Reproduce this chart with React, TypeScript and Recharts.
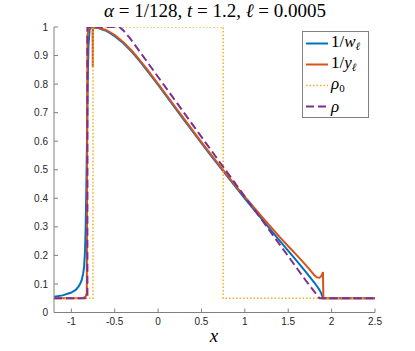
import { LineChart, Line, XAxis, YAxis, Legend } from "recharts";

const xTicks = [-1, -0.5, 0, 0.5, 1, 1.5, 2, 2.5];
const yTicks = [0, 0.1, 0.2, 0.3, 0.4, 0.5, 0.6, 0.7, 0.8, 0.9, 1];

// 1/w_l
const invW: [number, number][] = [
  [-1.2, 0.055], [-1.1, 0.06], [-1.0, 0.07], [-0.95, 0.079], [-0.92, 0.09],
  [-0.9, 0.1], [-0.88, 0.114], [-0.865, 0.135], [-0.853, 0.16], [-0.842, 0.22],
  [-0.835, 0.3], [-0.828, 0.42], [-0.82, 0.6], [-0.812, 0.8], [-0.803, 0.93],
  [-0.79, 0.99], [-0.78, 1.0], [-0.7, 0.997], [-0.6, 0.987], [-0.5, 0.968],
  [-0.4, 0.943], [-0.3, 0.912], [-0.2, 0.876], [-0.1, 0.837], [0, 0.797],
  [0.1, 0.756], [0.2, 0.715], [0.3, 0.674], [0.4, 0.633], [0.5, 0.593],
  [0.6, 0.553], [0.75, 0.495], [0.9, 0.437], [1.0, 0.399], [1.2, 0.325],
  [1.4, 0.252], [1.5, 0.216], [1.6, 0.18], [1.7, 0.143], [1.8, 0.105],
  [1.85, 0.084], [1.88, 0.068], [1.9, 0.05], [2.5, 0.05],
];

// 1/y_l
const invY: [number, number][] = [
  [-1.2, 0.05], [-0.9, 0.05], [-0.86, 0.051], [-0.835, 0.056], [-0.822, 0.068],
  [-0.818, 0.5], [-0.815, 0.97], [-0.8, 0.995], [-0.78, 1.0], [-0.76, 0.998],
  [-0.755, 0.997], [-0.753, 0.86], [-0.751, 0.997], [-0.7, 0.998], [-0.6, 0.99],
  [-0.5, 0.972], [-0.4, 0.947], [-0.3, 0.916], [-0.2, 0.88], [-0.1, 0.841],
  [0, 0.801], [0.1, 0.76], [0.2, 0.719], [0.3, 0.678], [0.4, 0.637],
  [0.5, 0.597], [0.6, 0.557], [0.75, 0.499], [0.9, 0.442], [1.0, 0.405],
  [1.2, 0.334], [1.4, 0.265], [1.5, 0.232], [1.6, 0.2], [1.7, 0.167],
  [1.75, 0.149], [1.8, 0.131], [1.83, 0.123], [1.86, 0.122], [1.88, 0.127],
  [1.895, 0.137], [1.9, 0.142], [1.905, 0.05], [2.5, 0.05],
];

// rho_0
const rho0: [number, number][] = [
  [-1.2, 0.05], [-0.75, 0.05], [-0.75, 1], [0.75, 1], [0.75, 0.05], [2.5, 0.05],
];

// rho
const rho: [number, number][] = [
  [-1.2, 0.05], [-0.815, 0.05], [-0.815, 1], [-0.446, 1], [-0.4, 0.988],
  [-0.323, 0.96], [-0.2, 0.909], [-0.1, 0.867], [0, 0.825], [0.25, 0.72],
  [0.5, 0.615], [0.75, 0.51], [1.0, 0.406], [1.25, 0.302], [1.5, 0.197],
  [1.7, 0.113], [1.86, 0.05], [2.5, 0.05],
];

const series = [
  { key: "w", pts: invW, color: "#0072BD", width: 2, dash: undefined, base: "1/", it: "w", sub: "ℓ", subIt: true },
  { key: "y", pts: invY, color: "#D95319", width: 2, dash: undefined, base: "1/", it: "y", sub: "ℓ", subIt: true },
  { key: "r0", pts: rho0, color: "#EDB120", width: 1.5, dash: "1.5 2", base: "", it: "ρ", sub: "0", subIt: false },
  { key: "r", pts: rho, color: "#7E2F8E", width: 2, dash: "8 4", base: "", it: "ρ", sub: "", subIt: false },
];

const AXIS = "#808080";
const LABEL = "#262626";
const TS = 3;
const TM = 2;
const INNER = 4;
const SERIF = "'Liberation Serif', 'Times New Roman', serif";
const SANS = "'Liberation Sans', Arial, Helvetica, sans-serif";

function BottomTick(props: any) {
  const { x, y, payload } = props;
  const axisY = y - TS - TM;
  return (
    <g>
      <line x1={x} x2={x} y1={axisY} y2={axisY - INNER} stroke={AXIS} />
      <text x={x} y={y} dy="0.71em" textAnchor="middle" fontSize={10} fill={LABEL} fontFamily={SANS}>
        {payload.value}
      </text>
    </g>
  );
}

function LeftTick(props: any) {
  const { x, y, payload } = props;
  const axisX = x + 4 + TM;
  return (
    <g>
      <line x1={axisX} x2={axisX + INNER} y1={y} y2={y} stroke={AXIS} />
      <text x={x} y={y} dy="0.355em" textAnchor="end" fontSize={10} fill={LABEL} fontFamily={SANS}>
        {payload.value}
      </text>
    </g>
  );
}

function LegendBox() {
  return (
    <div
      style={{
        width: 67,
        height: 87,
        boxSizing: "border-box",
        border: `1px solid ${AXIS}`,
        background: "#fff",
        paddingTop: 1,
      }}
    >
      {series.map((s) => (
        <div key={s.key} style={{ display: "flex", alignItems: "center", height: 21 }}>
          <svg width={26} height={21} style={{ flex: "none" }}>
            <line
              x1={3}
              x2={25}
              y1={10.5}
              y2={10.5}
              stroke={s.color}
              strokeWidth={s.width}
              strokeDasharray={s.dash}
            />
          </svg>
          <span style={{ fontFamily: SERIF, fontSize: 17, color: "#000", marginLeft: 2, lineHeight: "21px" }}>
            {s.base}
            <i>{s.it}</i>
            {s.sub && (
              <sub style={{ fontSize: 11, fontStyle: s.subIt ? "italic" : "normal", verticalAlign: "-3px" }}>
                {s.sub}
              </sub>
            )}
          </span>
        </div>
      ))}
    </div>
  );
}

export default function App() {
  return (
    <div style={{ position: "absolute", left: 0, top: 0, width: 415, height: 351, background: "#fff" }}>
      <div
        style={{
          position: "absolute",
          left: 0,
          top: 0,
          width: 430,
          textAlign: "center",
          fontFamily: SERIF,
          fontSize: 19,
          lineHeight: "22px",
          color: "#000",
          whiteSpace: "nowrap",
          zIndex: 2,
        }}
      >
        <i>α</i> = 1/128, <i>t</i> = 1.2, <i>ℓ</i> = 0.0005
      </div>
      <LineChart width={415} height={351} margin={{ top: 27, right: 40, bottom: 8.5, left: 14 }}>
        <XAxis
          xAxisId="b"
          type="number"
          dataKey="x"
          domain={[-1.2, 2.5]}
          ticks={xTicks}
          allowDataOverflow
          height={30}
          tickSize={TS}
          tickMargin={TM}
          tickLine={false}
          axisLine={{ stroke: AXIS }}
          tick={<BottomTick />}
          interval={0}
        />
        <XAxis
          xAxisId="t"
          orientation="top"
          type="number"
          dataKey="x"
          domain={[-1.2, 2.5]}
          ticks={xTicks}
          allowDataOverflow
          height={0}
          mirror
          tickSize={INNER}
          tick={false}
          tickLine={{ stroke: AXIS }}
          axisLine={{ stroke: AXIS }}
          interval={0}
        />
        <YAxis
          yAxisId="l"
          type="number"
          domain={[0, 1]}
          ticks={yTicks}
          allowDataOverflow
          width={40}
          tickSize={4}
          tickMargin={TM}
          tickLine={false}
          axisLine={{ stroke: AXIS }}
          tick={<LeftTick />}
          interval={0}
        />
        <YAxis
          yAxisId="r"
          orientation="right"
          type="number"
          domain={[0, 1]}
          ticks={yTicks}
          allowDataOverflow
          width={0}
          mirror
          tickSize={INNER}
          tick={false}
          tickLine={{ stroke: AXIS }}
          axisLine={{ stroke: AXIS }}
          interval={0}
        />
        {series.map((s) => (
          <Line
            key={s.key}
            xAxisId="b"
            yAxisId="l"
            data={s.pts.map(([x, y]) => ({ x, y }))}
            dataKey="y"
            type="linear"
            dot={false}
            activeDot={false}
            stroke={s.color}
            strokeWidth={s.width}
            strokeDasharray={s.dash}
            isAnimationActive={false}
          />
        ))}
        <Legend
          layout="vertical"
          align="center"
          verticalAlign="middle"
          content={() => <LegendBox />}
          wrapperStyle={{ top: 31, left: 302, width: 67, height: 87 }}
        />
      </LineChart>
      <div
        style={{
          position: "absolute",
          left: 204,
          top: 326,
          width: 20,
          textAlign: "center",
          fontFamily: SERIF,
          fontStyle: "italic",
          fontSize: 19,
          lineHeight: "20px",
          color: "#000",
        }}
      >
        x
      </div>
    </div>
  );
}
